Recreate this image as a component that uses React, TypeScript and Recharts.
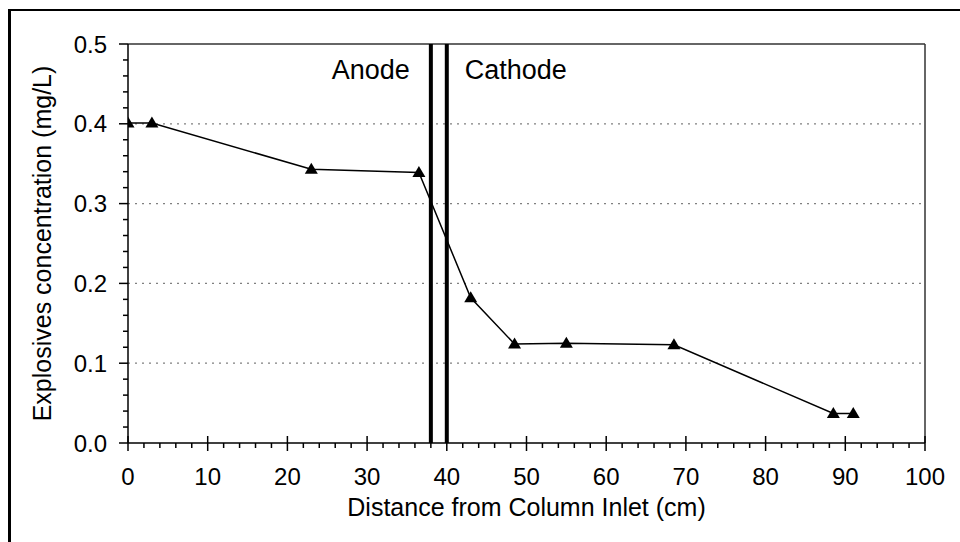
import React from 'react';
import { LineChart, Line, XAxis, YAxis, CartesianGrid, ReferenceLine, Label } from 'recharts';

// ---- data ----
const DISTANCE_CM = [0, 3, 23, 36.5, 43, 48.5, 55, 68.5, 88.5, 91];
const CONCENTRATION_MG_L = [0.401, 0.401, 0.343, 0.339, 0.182, 0.124, 0.125, 0.123, 0.037, 0.037];

const X_TICKS = [
  0, 2, 4, 6, 8, 10, 12, 14, 16, 18, 20, 22, 24, 26, 28, 30, 32, 34, 36, 38, 40,
  42, 44, 46, 48, 50, 52, 54, 56, 58, 60, 62, 64, 66, 68, 70, 72, 74, 76, 78, 80,
  82, 84, 86, 88, 90, 92, 94, 96, 98, 100,
];
const X_MAJOR_TICKS = [0, 10, 20, 30, 40, 50, 60, 70, 80, 90, 100];
const Y_TICKS = [
  0, 0.02, 0.04, 0.06, 0.08, 0.1, 0.12, 0.14, 0.16, 0.18, 0.2, 0.22, 0.24, 0.26,
  0.28, 0.3, 0.32, 0.34, 0.36, 0.38, 0.4, 0.42, 0.44, 0.46, 0.48, 0.5,
];
const Y_MAJOR_TICKS = [0, 0.1, 0.2, 0.3, 0.4, 0.5];
const Y_GRID_VALUES = [0.1, 0.2, 0.3, 0.4];

const ANODE_POSITION = 38;
const CATHODE_POSITION = 40;
const ANODE_LABEL = 'Anode';
const CATHODE_LABEL = 'Cathode';
const X_TITLE = 'Distance from Column Inlet (cm)';
const Y_TITLE = 'Explosives concentration (mg/L)';

const data = DISTANCE_CM.map((x, i) => ({ x, y: CONCENTRATION_MG_L[i] }));

const FONT = '"Liberation Sans", Arial, Helvetica, sans-serif';
const FS = 24;
const TITLE_FS = 25;
const NOTE_FS = 27;

const XTick = (props: any) => {
  const { x, y, payload } = props;
  const v = payload.value;
  const major = X_MAJOR_TICKS.includes(v);
  return (
    <g>
      <line x1={x} x2={x} y1={major ? y - 7 : y} y2={y + (major ? 8 : 5)} stroke="#000" strokeWidth={1.5} />
      {major && (
        <text x={x} y={y + 42} textAnchor="middle" fontFamily={FONT} fontSize={FS} fill="#000">
          {v}
        </text>
      )}
    </g>
  );
};

const YTick = (props: any) => {
  const { x, y, payload } = props;
  const v = payload.value;
  const major = Y_MAJOR_TICKS.includes(v);
  return (
    <g>
      <line x1={x - (major ? 9 : 5)} x2={x} y1={y} y2={y} stroke="#000" strokeWidth={1.5} />
      {major && (
        <text x={x - 21} y={y + 8.5} textAnchor="end" fontFamily={FONT} fontSize={FS} fill="#000">
          {v.toFixed(1)}
        </text>
      )}
    </g>
  );
};

const TriangleDot = (props: any) => {
  const { cx, cy, index } = props;
  if (cx == null || cy == null) return null;
  return (
    <polygon
      key={`tri-${index}`}
      points={`${cx},${cy - 6.5} ${cx - 6.5},${cy + 4.5} ${cx + 6.5},${cy + 4.5}`}
      fill="#000"
    />
  );
};

const XTitle = (props: any) => {
  const vb = props.viewBox;
  return (
    <text x={vb.x + vb.width / 2} y={vb.y + 73} textAnchor="middle" fontFamily={FONT} fontSize={TITLE_FS} fill="#000">
      {X_TITLE}
    </text>
  );
};

const YTitle = (props: any) => {
  const vb = props.viewBox;
  const cx = vb.x + 51;
  const cy = vb.y + vb.height / 2;
  return (
    <text
      x={cx}
      y={cy}
      transform={`rotate(-90 ${cx} ${cy})`}
      textAnchor="middle"
      fontFamily={FONT}
      fontSize={TITLE_FS}
      fill="#000"
    >
      {Y_TITLE}
    </text>
  );
};

const AnodeLabel = (props: any) => {
  const vb = props.viewBox;
  return (
    <text x={vb.x - 21} y={vb.y + 35} textAnchor="end" fontFamily={FONT} fontSize={NOTE_FS} fill="#000">
      {ANODE_LABEL}
    </text>
  );
};

const CathodeLabel = (props: any) => {
  const vb = props.viewBox;
  return (
    <text x={vb.x + 18} y={vb.y + 35} textAnchor="start" fontFamily={FONT} fontSize={NOTE_FS} fill="#000">
      {CATHODE_LABEL}
    </text>
  );
};

export default function App() {
  return (
    <div style={{ position: 'absolute', left: 0, top: 0, width: 960, height: 542, overflow: 'hidden', background: '#fff' }}>
      <div
        style={{
          position: 'absolute',
          left: 8,
          top: 9,
          width: 1000,
          height: 600,
          borderLeft: '3px solid #000',
          borderTop: '2px solid #000',
        }}
      />
      <div style={{ position: 'absolute', left: 0, top: 0 }}>
        <LineChart width={960} height={542} data={data} margin={{ top: 44, right: 35, bottom: 0, left: 0 }}>
          <CartesianGrid
            horizontal
            vertical={false}
            horizontalValues={Y_GRID_VALUES}
            stroke="#808080"
            strokeWidth={1.2}
            strokeDasharray="2 5"
          />
          <XAxis
            dataKey="x"
            type="number"
            domain={[0, 100]}
            ticks={X_TICKS}
            interval={0}
            height={99}
            tickSize={0}
            tickMargin={0}
            tickLine={false}
            tick={<XTick />}
            axisLine={{ stroke: '#000', strokeWidth: 1.5 }}
            allowDataOverflow
          >
            <Label content={<XTitle />} />
          </XAxis>
          <YAxis
            type="number"
            domain={[0, 0.5]}
            ticks={Y_TICKS}
            interval={0}
            width={128}
            tickSize={0}
            tickMargin={0}
            tickLine={false}
            tick={<YTick />}
            axisLine={{ stroke: '#000', strokeWidth: 1.5 }}
            allowDataOverflow
          >
            <Label content={<YTitle />} />
          </YAxis>
          <ReferenceLine y={0.5} stroke="#333" strokeWidth={1.5} />
          <ReferenceLine x={100} stroke="#333" strokeWidth={1.5} />
          <ReferenceLine x={ANODE_POSITION} stroke="#000" strokeWidth={4} label={<AnodeLabel />} />
          <ReferenceLine x={CATHODE_POSITION} stroke="#000" strokeWidth={4} label={<CathodeLabel />} />
          <Line
            type="linear"
            dataKey="y"
            stroke="#000"
            strokeWidth={1.5}
            dot={<TriangleDot />}
            activeDot={false}
            isAnimationActive={false}
          />
        </LineChart>
      </div>
    </div>
  );
}
